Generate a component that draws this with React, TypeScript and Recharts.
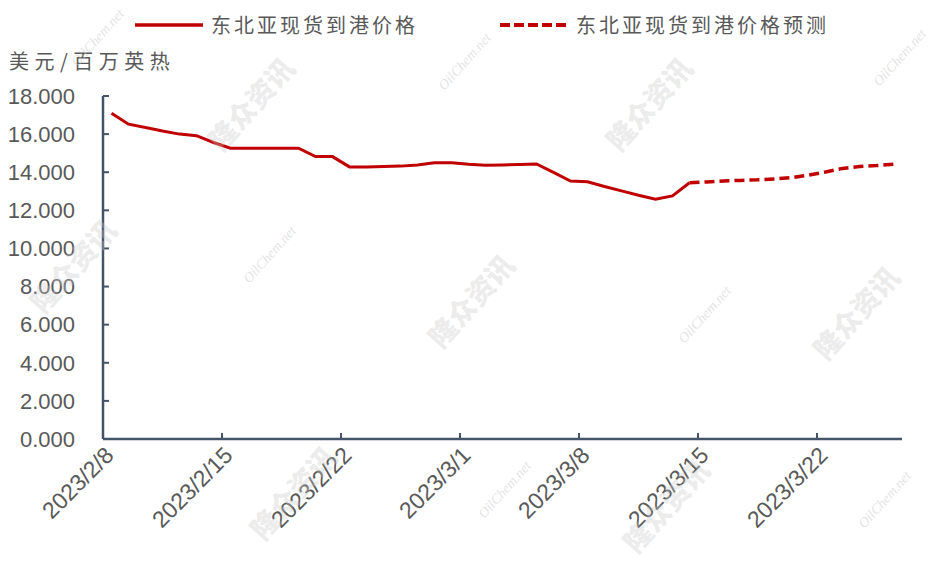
import React from 'react';
import { LineChart, Line, XAxis, YAxis } from 'recharts';

const dates = [
  '2023/2/8', '2023/2/9', '2023/2/10', '2023/2/11', '2023/2/12', '2023/2/13', '2023/2/14',
  '2023/2/15', '2023/2/16', '2023/2/17', '2023/2/18', '2023/2/19', '2023/2/20', '2023/2/21',
  '2023/2/22', '2023/2/23', '2023/2/24', '2023/2/25', '2023/2/26', '2023/2/27', '2023/2/28',
  '2023/3/1', '2023/3/2', '2023/3/3', '2023/3/4', '2023/3/5', '2023/3/6', '2023/3/7',
  '2023/3/8', '2023/3/9', '2023/3/10', '2023/3/11', '2023/3/12', '2023/3/13', '2023/3/14',
  '2023/3/15', '2023/3/16', '2023/3/17', '2023/3/18', '2023/3/19', '2023/3/20', '2023/3/21',
  '2023/3/22', '2023/3/23', '2023/3/24', '2023/3/25', '2023/3/26',
];

const actual: (number | null)[] = [
  17.09, 16.52, 16.35, 16.16, 16.0, 15.92, 15.56,
  15.26, 15.26, 15.26, 15.26, 15.26, 14.82, 14.82,
  14.28, 14.28, 14.3, 14.32, 14.38, 14.5, 14.5,
  14.42, 14.37, 14.38, 14.4, 14.43, 13.99, 13.54,
  13.5, 13.25, 13.02, 12.79, 12.58, 12.76, 13.45,
  null, null, null, null, null, null, null,
  null, null, null, null, null,
];

const forecast: (number | null)[] = [
  null, null, null, null, null, null, null,
  null, null, null, null, null, null, null,
  null, null, null, null, null, null, null,
  null, null, null, null, null, null, null,
  null, null, null, null, null, null, 13.45,
  13.49, 13.54, 13.57, 13.6, 13.65, 13.72, 13.85,
  14.01, 14.2, 14.3, 14.35, 14.42,
];

const tickLabels = ['2023/2/8', '2023/2/15', '2023/2/22', '2023/3/1', '2023/3/8', '2023/3/15', '2023/3/22'];
const yTicks = [0, 2, 4, 6, 8, 10, 12, 14, 16, 18];

const seriesNames = ['东北亚现货到港价格', '东北亚现货到港价格预测'];
const yTitle = '美元/百万英热';

const data = dates.map((d, i) => ({ idx: i, date: d, actual: actual[i], forecast: forecast[i] }));
const xTickValues = tickLabels.map((t) => dates.indexOf(t) - 0.5);

const W = 940;
const H = 564;
const X_H = 30;
const MARGIN = { top: 96, right: 38, bottom: 125 - X_H, left: 0 };
const Y_W = 103;
const PLOT_W = W - MARGIN.left - MARGIN.right - Y_W;
const HALF_BAND = PLOT_W / dates.length / 2;

const RED = '#C00000';
const AXIS = '#44546A';
const TEXT = '#595959';
const FONT = '"Liberation Sans", Arial, "Noto Sans CJK SC", sans-serif';
const CJK = '"Noto Sans CJK SC", "Liberation Sans", sans-serif';

const XTick = (props: any) => {
  const { x, y, payload } = props;
  const i = xTickValues.indexOf(payload.value);
  const label = i >= 0 ? tickLabels[i] : '';
  const ax = x + HALF_BAND - 2;
  const ay = y + 12;
  return (
    <text
      x={ax}
      y={ay}
      transform={`rotate(-45, ${ax}, ${ay})`}
      textAnchor="end"
      dominantBaseline="central"
      fontSize={23}
      fontFamily={FONT}
      fill={TEXT}
    >
      {label}
    </text>
  );
};

const watermarks = [
  { t: '隆众资讯', x: 250, y: 103, big: true },
  { t: '隆众资讯', x: 648, y: 103, big: true },
  { t: '隆众资讯', x: 72, y: 265, big: true },
  { t: '隆众资讯', x: 470, y: 300, big: true },
  { t: '隆众资讯', x: 855, y: 312, big: true },
  { t: '隆众资讯', x: 292, y: 492, big: true },
  { t: '隆众资讯', x: 665, y: 505, big: true },
  { t: 'OilChem.net', x: 98, y: 38, big: false },
  { t: 'OilChem.net', x: 465, y: 62, big: false },
  { t: 'OilChem.net', x: 900, y: 58, big: false },
  { t: 'OilChem.net', x: 270, y: 255, big: false },
  { t: 'OilChem.net', x: 705, y: 315, big: false },
  { t: 'OilChem.net', x: 505, y: 490, big: false },
  { t: 'OilChem.net', x: 885, y: 500, big: false },
];

export default function App() {
  return (
    <div style={{ position: 'absolute', left: 0, top: 0, width: W, height: H, background: '#fff', overflow: 'hidden' }}>
      <LineChart width={W} height={H} data={data} margin={MARGIN}>
        <XAxis
          dataKey="idx"
          type="number"
          height={X_H}
          domain={[-0.5, dates.length - 0.5]}
          ticks={xTickValues}
          interval={0}
          tick={<XTick />}
          tickSize={-6}
          tickMargin={6}
          axisLine={{ stroke: AXIS, strokeWidth: 2.5 }}
          tickLine={{ stroke: AXIS, strokeWidth: 2 }}
          allowDataOverflow
        />
        <YAxis
          width={Y_W}
          domain={[0, 18]}
          ticks={yTicks}
          interval={0}
          tickFormatter={(v: number) => v.toFixed(3)}
          tickSize={-6}
          tickMargin={34}
          axisLine={{ stroke: AXIS, strokeWidth: 2.5 }}
          tickLine={{ stroke: AXIS, strokeWidth: 2 }}
          tick={{ fill: TEXT, fontSize: 22, fontFamily: FONT }}
        />
        <Line
          dataKey="actual"
          name={seriesNames[0]}
          stroke={RED}
          strokeWidth={3}
          dot={false}
          activeDot={false}
          isAnimationActive={false}
          connectNulls={false}
        />
        <Line
          dataKey="forecast"
          name={seriesNames[1]}
          stroke={RED}
          strokeWidth={3.5}
          strokeDasharray="10 5"
          dot={false}
          activeDot={false}
          isAnimationActive={false}
          connectNulls={false}
        />
      </LineChart>

      {/* legend */}
      <div style={{ position: 'absolute', left: 135, top: 12, display: 'flex', alignItems: 'center', fontFamily: CJK, fontSize: 20, color: TEXT, letterSpacing: 3, lineHeight: '26px' }}>
        <svg width={68} height={10} style={{ marginRight: 8 }}>
          <line x1={0} y1={5} x2={68} y2={5} stroke={RED} strokeWidth={3.5} />
        </svg>
        <span>{seriesNames[0]}</span>
      </div>
      <div style={{ position: 'absolute', left: 500, top: 12, display: 'flex', alignItems: 'center', fontFamily: CJK, fontSize: 20, color: TEXT, letterSpacing: 3, lineHeight: '26px' }}>
        <svg width={68} height={10} style={{ marginRight: 8 }}>
          <line x1={0} y1={5} x2={68} y2={5} stroke={RED} strokeWidth={4} strokeDasharray="10 4" />
        </svg>
        <span>{seriesNames[1]}</span>
      </div>

      {/* y-axis title */}
      <div style={{ position: 'absolute', left: 9, top: 47, fontFamily: CJK, fontSize: 20, color: TEXT, letterSpacing: 5.5, lineHeight: '28px', whiteSpace: 'nowrap' }}>
        {yTitle}
      </div>

      {/* watermarks */}
      {watermarks.map((w, i) => (
        <div
          key={i}
          style={{
            position: 'absolute',
            left: w.x,
            top: w.y,
            transform: 'translate(-50%, -50%) rotate(-48deg)',
            fontFamily: w.big ? CJK : '"Liberation Serif", serif',
            fontStyle: w.big ? 'normal' : 'italic',
            fontWeight: w.big ? 900 : 400,
            fontSize: w.big ? 28 : 14,
            color: w.big ? 'rgba(200,200,200,0.35)' : 'rgba(200,200,200,0.5)',
            whiteSpace: 'nowrap',
            pointerEvents: 'none',
          }}
        >
          {w.t}
        </div>
      ))}
    </div>
  );
}
